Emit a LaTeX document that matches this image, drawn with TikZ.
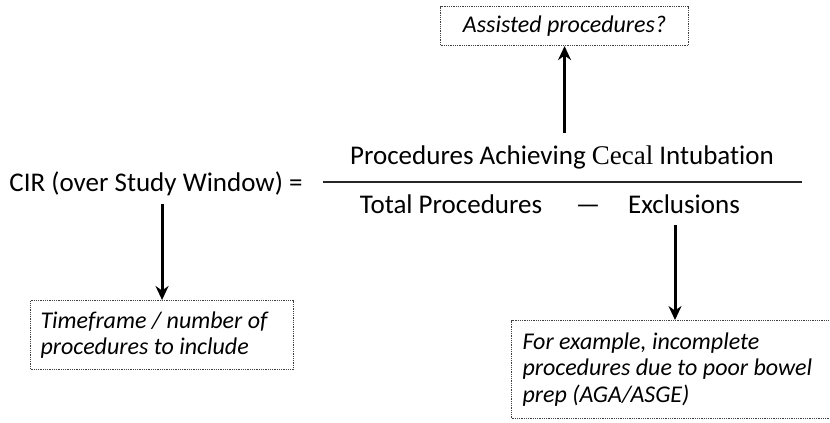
\documentclass[tikz,border=0pt]{standalone}
\usepackage{fontspec}
\setmainfont{Carlito}[Ligatures=NoCommon]
\newfontfamily\cecalfont{Liberation Serif}
\usetikzlibrary{arrows.meta}
\tikzset{
  txt/.style={font=\fontsize{27}{32}\selectfont, inner sep=0pt, anchor=base},
  note/.style={draw=black!75, line width=1.1pt, dash pattern=on 1pt off 0.8pt,
    font=\fontsize{24}{26.5}\selectfont\itshape, align=flush left, inner ysep=0pt},
  pointer/.style={line width=3pt, -{Stealth[length=14pt,width=13pt]}}
}
\begin{document}
\begin{tikzpicture}[x=1pt,y=-1pt]
      \useasboundingbox (0,0) rectangle (830,423);
      \draw
        (156,191) node[txt] (cir){CIR (over Study Window) =}
        (562,164) node[txt] (num){Procedures Achieving {\cecalfont Cecal} Intubation}
        (451,213) node[txt] (tot){Total Procedures}
        (588,213) node[txt] (dash){---}
        (684,213) node[txt] (excl){Exclusions};
      \draw[line width=2.4pt, black!85] (323,182) -- (802,182);
      \node[note, minimum width=248pt, minimum height=39pt, anchor=north west]
        (assist) at (440,6) {Assisted procedures?};
      \node[note, minimum width=263pt, minimum height=69pt, text width=243pt,
        inner xsep=10pt, anchor=north west] (frame) at (30,300)
        {Timeframe / number of\\procedures to include};
      \node[note, minimum width=334pt, minimum height=98pt, text width=318pt,
        inner xsep=11pt, anchor=north west] (exbox) at (511,320)
        {For example, incomplete\\procedures due to poor bowel\\prep (AGA/ASGE)};
      \begin{scope}[pointer]
        \draw ([yshift=12pt]num.north -| assist.south) to (assist.south);
        \draw ([yshift=-8pt]cir.south -| frame.north) to (frame.north);
        \draw ([xshift=-9pt,yshift=-12pt]excl.south) to ([xshift=-9pt]excl.south |- exbox.north);
      \end{scope}
    \end{tikzpicture}
\end{document}
